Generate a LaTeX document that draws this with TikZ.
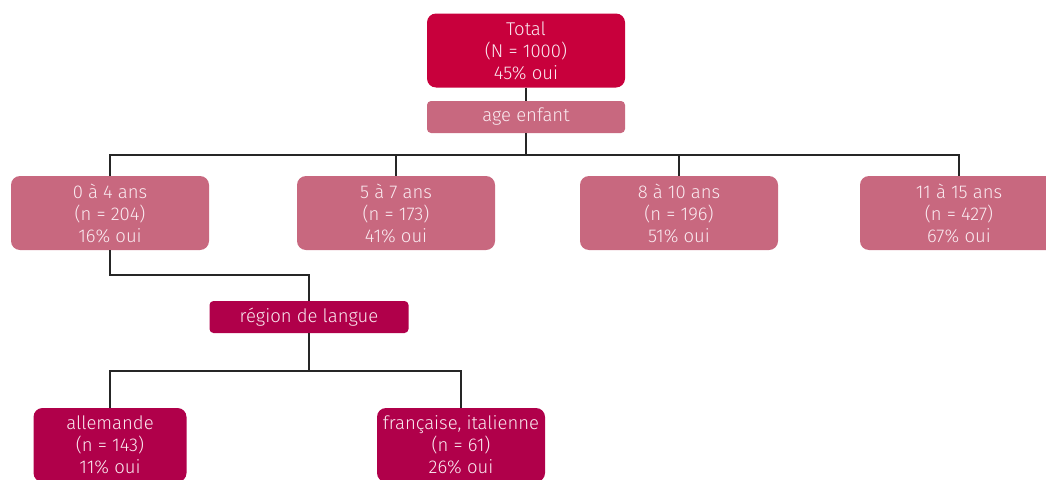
\documentclass[tikz,border=0pt]{standalone}
\usepackage{fontspec}
\setmainfont{Fira Sans Light}
\definecolor{cTop}{HTML}{C8003C}
\definecolor{cMid}{HTML}{C8687F}
\definecolor{cLeaf}{HTML}{B0004A}
\definecolor{cTxt}{HTML}{FAEAF0}
\begin{document}
\begin{tikzpicture}[x=1pt,y=-1pt,
  box/.style={rounded corners=9pt, inner sep=0pt, align=center, text=cTxt,
    font=\fontsize{18.5}{22}\selectfont, minimum height=74pt, minimum width=198pt},
  split/.style={rounded corners=4pt, inner sep=0pt, align=center, text=cTxt,
    font=\fontsize{18.5}{22}\selectfont, minimum height=32pt, minimum width=198pt},
  conn/.style={draw=black!85, line width=1.3pt}]
\useasboundingbox (0,0) rectangle (1046,479);
\clip (0,0) rectangle (1046,479);
\node[box, fill=cTop] (total) at (526,50.5) {Total\\(N = 1000)\\45\% oui};
\node[split, fill=cMid] (age) at (526,117) {age enfant};
\node[box, fill=cMid] (a1) at (110,213) {0 à 4 ans\\(n = 204)\\16\% oui};
\node[box, fill=cMid] (a2) at (396,213) {5 à 7 ans\\(n = 173)\\41\% oui};
\node[box, fill=cMid] (a3) at (679,213) {8 à 10 ans\\(n = 196)\\51\% oui};
\node[box, fill=cMid] (a4) at (959,213) {11 à 15 ans\\(n = 427)\\67\% oui};
\node[split, fill=cLeaf, minimum width=199pt] (reg) at (309,317) {région de langue};
\node[box, fill=cLeaf, minimum width=153pt] (l1) at (110,445) {allemande\\(n = 143)\\11\% oui};
\node[box, fill=cLeaf, minimum width=168pt] (l2) at (461,445) {française, italienne\\(n = 61)\\26\% oui};
\coordinate (h1) at (526,155);
\coordinate (h2) at (309,275);
\coordinate (h3) at (309,371);
\draw[conn] (total.south) -- (age.north);
\draw[conn] (age.south) -- (h1);
\draw[conn] (a1.north) |- (h1) -| (a4.north);
\draw[conn] (a2.north) |- (h1);
\draw[conn] (a3.north) |- (h1);
\draw[conn] (a1.south) |- (h2) -- (reg.north);
\draw[conn] (reg.south) -- (h3);
\draw[conn] (l1.north) |- (h3) -| (l2.north);
\end{tikzpicture}
\end{document}
